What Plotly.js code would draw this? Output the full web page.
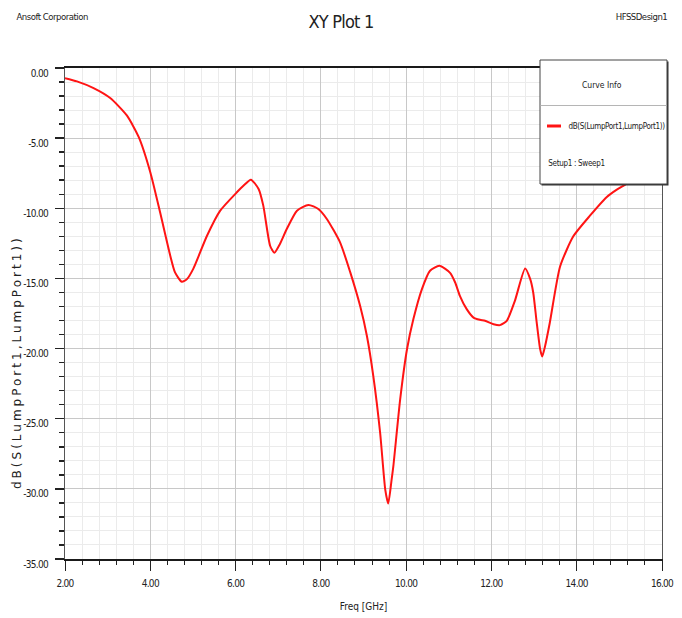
<!DOCTYPE html>
<html>
<head>
<meta charset="utf-8">
<script src="https://cdn.plot.ly/plotly-3.0.1.min.js"></script>
<style>
html,body{margin:0;padding:0;background:#fff;}
#chart{width:682px;height:618px;}
.annotation[data-index="0"] text{letter-spacing:3px;}
.annotation[data-index="4"] text{letter-spacing:-0.35px;}
.annotation[data-index="5"] text{letter-spacing:-0.3px;}
.annotation[data-index="1"] text,.annotation[data-index="2"] text{letter-spacing:-0.5px;}
g.xtick text, g.ytick text{letter-spacing:-0.7px;}
.gtitle{letter-spacing:-0.8px;}
</style>
</head>
<body>
<div id="chart"></div>
<script>
// ---- data ----
const freqGHz = [2.00, 2.28, 2.67, 3.06, 3.45, 3.73, 4.00, 4.23, 4.47, 4.58, 4.74, 4.86, 5.01, 5.33, 5.64, 6.03, 6.19, 6.36, 6.54, 6.65, 6.81, 6.91, 7.04, 7.20, 7.44, 7.71, 7.94, 8.14, 8.45, 8.69, 8.92, 9.08, 9.23, 9.39, 9.51, 9.58, 9.66, 9.70, 9.86, 10.02, 10.17, 10.37, 10.56, 10.78, 11.03, 11.15, 11.26, 11.42, 11.58, 11.73, 11.85, 12.05, 12.20, 12.36, 12.55, 12.79, 12.91, 12.98, 13.06, 13.14, 13.19, 13.26, 13.37, 13.61, 13.92, 14.31, 14.70, 14.94, 15.13, 15.50, 16.00];
const s11dB = [-0.72, -0.95, -1.43, -2.14, -3.38, -4.93, -7.43, -10.29, -13.40, -14.57, -15.24, -15.05, -14.30, -11.96, -10.17, -8.86, -8.38, -7.96, -8.62, -9.81, -12.67, -13.17, -12.55, -11.48, -10.17, -9.76, -10.05, -10.76, -12.43, -14.57, -16.95, -19.10, -21.96, -26.00, -30.05, -31.05, -29.33, -28.38, -23.62, -20.05, -17.90, -15.76, -14.45, -14.10, -14.60, -15.29, -16.24, -17.19, -17.79, -17.95, -18.02, -18.26, -18.33, -18.02, -16.60, -14.29, -15.05, -16.00, -18.10, -20.00, -20.57, -19.80, -18.14, -14.15, -12.00, -10.53, -9.21, -8.67, -8.33, -7.60, -7.00];
const seriesName = "dB(S(LumpPort1,LumpPort1))";
const xTickValues = [2, 4, 6, 8, 10, 12, 14, 16];
const xTickLabels = ["2.00", "4.00", "6.00", "8.00", "10.00", "12.00", "14.00", "16.00"];
const yTickValues = [0, -5, -10, -15, -20, -25, -30, -35];
const yTickLabels = ["0.00", "-5.00", "-10.00", "-15.00", "-20.00", "-25.00", "-30.00", "-35.00"];

// ---- layout helpers ----
const L = 65, R = 20, T = 68, B = 59, FW = 682, FH = 618;
const W = FW - L - R, H = FH - T - B;
const px = x => (x - L) / W;
const py = y => (FH - B - y) / H;
const NARROW = '"DejaVu Sans Condensed", "Liberation Sans Narrow", "Liberation Sans", sans-serif';
const TXT = '#222222';

const trace = {
  x: freqGHz, y: s11dB, name: seriesName, type: 'scatter', mode: 'lines',
  line: {color: '#ff1414', width: 2, shape: 'spline', smoothing: 0.6},
  hoverinfo: 'skip'
};

const layout = {
  width: FW, height: FH,
  margin: {l: L, r: R, t: T, b: B, pad: 0},
  paper_bgcolor: '#ffffff', plot_bgcolor: '#ffffff',
  showlegend: false,
  title: {text: 'XY Plot 1', x: 0.5, xref: 'container', xanchor: 'center',
          y: 1 - 22 / FH, yref: 'container', yanchor: 'middle',
          font: {family: NARROW, size: 18, color: TXT}},
  xaxis: {
    range: [2, 16], tickmode: 'array', tickvals: xTickValues, ticktext: xTickLabels,
    ticks: 'outside', ticklen: 10, tickwidth: 1, tickcolor: '#222',
    showline: true, linewidth: 2, linecolor: '#1a1a1a', mirror: true,
    showgrid: true, gridcolor: '#c8c8c8', gridwidth: 1, zeroline: false,
    ticklabelstandoff: 4,
    minor: {tickmode: 'linear', tick0: 2, dtick: 0.4, ticks: 'outside', ticklen: 4, tickwidth: 1,
            tickcolor: '#222', showgrid: true, gridcolor: '#ebebeb', gridwidth: 1},
    tickfont: {family: NARROW, size: 10, color: TXT},
    title: {text: 'Freq [GHz]', font: {family: NARROW, size: 10, color: TXT}, standoff: 15}
  },
  yaxis: {
    range: [-35, 0], tickmode: 'array', tickvals: yTickValues, ticktext: yTickLabels,
    ticks: 'outside', ticklen: 9, tickwidth: 1.5, tickcolor: '#222',
    showline: true, linewidth: 1, linecolor: '#555', mirror: true,
    showgrid: true, gridcolor: '#c8c8c8', gridwidth: 1, zeroline: false,
    ticklabelstandoff: 5, ticklabelshift: 5,
    minor: {tickmode: 'linear', tick0: 0, dtick: 1, ticks: 'outside', ticklen: 5, tickwidth: 1.5,
            tickcolor: '#222', showgrid: true, gridcolor: '#ebebeb', gridwidth: 1},
    tickfont: {family: NARROW, size: 10, color: TXT}
  },
  shapes: [
    // legend box shadow + box
    {type: 'rect', xref: 'paper', yref: 'paper', layer: 'above',
     x0: px(541.5), x1: px(668.5), y0: py(61.5), y1: py(185.5),
     fillcolor: '#333', line: {width: 0}},
    {type: 'rect', xref: 'paper', yref: 'paper', layer: 'above',
     x0: px(540), x1: px(667), y0: py(60), y1: py(184),
     fillcolor: '#ffffff', line: {color: '#444', width: 1}},
    {type: 'line', xref: 'paper', yref: 'paper', layer: 'above',
     x0: px(540.5), x1: px(666.5), y0: py(105.5), y1: py(105.5),
     line: {color: '#b5b5b5', width: 1}},
    {type: 'line', xref: 'paper', yref: 'paper', layer: 'above',
     x0: px(547), x1: px(561), y0: py(126), y1: py(126),
     line: {color: '#ff1414', width: 3}}
  ],
  annotations: [
    {text: 'dB(S(LumpPort1,LumpPort1))', xref: 'paper', yref: 'paper', x: px(17), y: py(362),
     textangle: -90, showarrow: false, xanchor: 'center', yanchor: 'middle',
     font: {family: '"DejaVu Sans", sans-serif', size: 12, color: TXT}},
    {text: 'Ansoft Corporation', xref: 'paper', yref: 'paper', x: px(10), y: py(16),
     showarrow: false, xanchor: 'left', yanchor: 'middle',
     font: {family: NARROW, size: 9.5, color: TXT}},
    {text: 'HFSSDesign1', xref: 'paper', yref: 'paper', x: px(672), y: py(16),
     showarrow: false, xanchor: 'right', yanchor: 'middle',
     font: {family: NARROW, size: 9.5, color: TXT}},
    {text: 'Curve Info', xref: 'paper', yref: 'paper', x: px(602), y: py(85),
     showarrow: false, xanchor: 'center', yanchor: 'middle',
     font: {family: NARROW, size: 8.5, color: TXT}},
    {text: seriesName, xref: 'paper', yref: 'paper', x: px(562), y: py(126),
     showarrow: false, xanchor: 'left', yanchor: 'middle',
     font: {family: NARROW, size: 8, color: TXT}},
    {text: 'Setup1 : Sweep1', xref: 'paper', yref: 'paper', x: px(544), y: py(163),
     showarrow: false, xanchor: 'left', yanchor: 'middle',
     font: {family: NARROW, size: 8, color: TXT}}
  ]
};

Plotly.newPlot('chart', [trace], layout, {displayModeBar: false, staticPlot: true});
</script>
</body>
</html>
